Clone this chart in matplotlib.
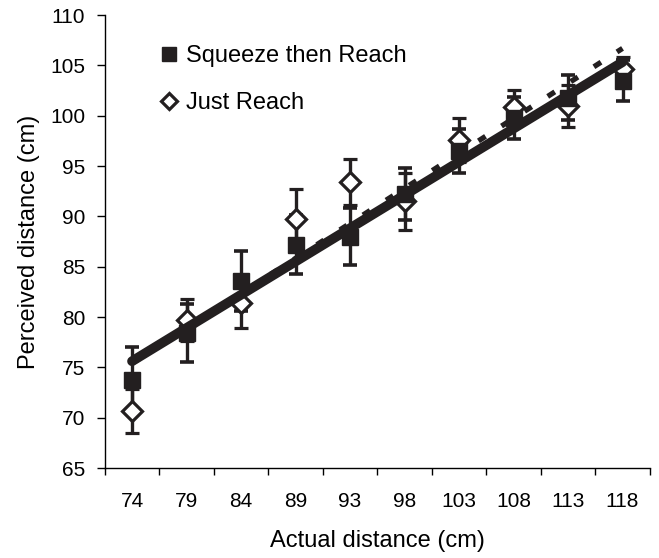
from matplotlib import pyplot as plt
import numpy as np

plt.rcParams['font.family'] = ['Liberation Sans', 'DejaVu Sans']

actual = ['74', '79', '84', '89', '93', '98', '103', '108', '113', '118']

squeeze = [73.75, 78.4, 83.6, 87.2, 88.0, 92.2, 96.5, 99.8, 101.8, 103.5]
squeeze_err = [3.25, 2.9, 3.0, 2.9, 2.8, 2.6, 2.2, 2.1, 2.2, 2.0]

reach = [70.7, 79.7, 81.4, 89.7, 93.4, 91.5, 97.6, 100.9, 101.0, 104.6]
reach_err = [2.2, 2.1, 2.5, 3.0, 2.3, 2.8, 2.2, 1.7, 2.1, 1.2]

ink = '#231f20'

fig = plt.figure(figsize=(6.59, 5.58), dpi=100)
ax = fig.add_axes([0.159, 0.161, 0.827, 0.812])

x = np.arange(len(actual))

ax.errorbar(x, reach, yerr=reach_err, fmt='D', ms=10, mfc='white', mec=ink, mew=2.3,
            ecolor=ink, elinewidth=2.4, capsize=5, capthick=2.6, zorder=3)
ax.errorbar(x, squeeze, yerr=squeeze_err, fmt='s', ms=11.5, mfc=ink, mec=ink,
            ecolor=ink, elinewidth=2.4, capsize=5, capthick=2.6, zorder=3)

# linear trend lines
for vals, ls, lw in [(squeeze, '-', 7), (reach, (0, (1.6, 3.6)), 3.8)]:
    k, b = np.polyfit(x, vals, 1)
    ax.plot(x, k * x + b, color=ink, ls=ls, lw=lw, solid_capstyle='round', zorder=4)

h1, = ax.plot([], [], 's', ms=10, color=ink)
h2, = ax.plot([], [], 'D', ms=8.5, mfc='white', mec=ink, mew=2.3)
ax.legend([h1, h2], ['Squeeze then Reach', 'Just Reach'], loc='upper left',
          bbox_to_anchor=(0.062, 0.98), frameon=False, fontsize=17,
          handlelength=0.8, handletextpad=0.3, labelspacing=1.05)

ax.set_xlim(-0.5, len(actual) - 0.5)
ax.set_ylim(65, 110)
ax.set_yticks(range(65, 111, 5))
ax.set_xticks(x)
ax.set_xticklabels(actual)
ax.set_xticks(np.arange(-0.5, len(actual), 1), minor=True)
ax.tick_params(axis='x', which='major', length=0, pad=17, labelsize=15)
ax.tick_params(axis='x', which='minor', length=5, width=1, direction='out')
ax.tick_params(axis='y', length=6, width=1, labelsize=15, pad=8)
for s in ['top', 'right']:
    ax.spines[s].set_visible(False)
for s in ['left', 'bottom']:
    ax.spines[s].set_linewidth(1)

ax.set_xlabel('Actual distance (cm)', fontsize=17, labelpad=14)
ax.set_ylabel('Perceived distance (cm)', fontsize=17, labelpad=7)

fig.savefig('out.png')
